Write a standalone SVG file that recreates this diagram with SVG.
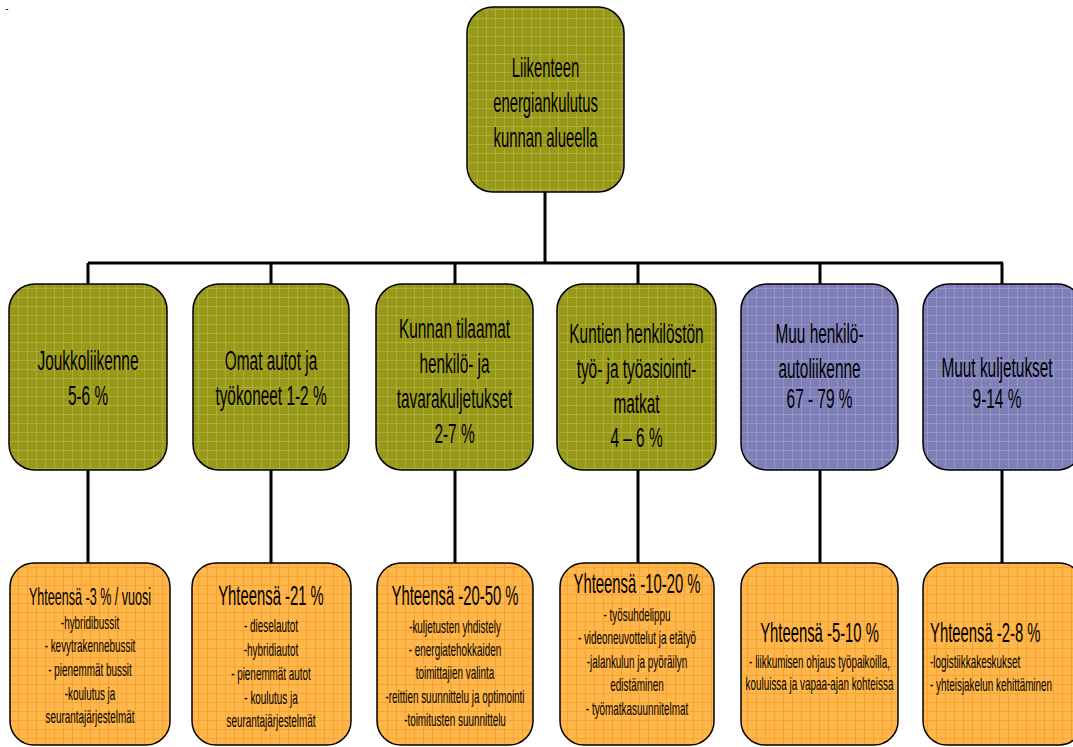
<svg xmlns="http://www.w3.org/2000/svg" width="1073" height="747" viewBox="0 0 1073 747">
<style>
.box{stroke:#000;stroke-width:1.5}
.ol{fill:url(#pOl)}
.bl{fill:url(#pBl)}
.or{fill:url(#pOr)}
.conn{stroke:#000;stroke-width:3;fill:none}
text{font-family:"Liberation Sans",Arial,sans-serif;fill:#000;text-anchor:middle}
.t1{font-size:27px}
.t2{font-size:28px}
.h{font-size:26px}
.s{font-size:18px}
.l text{text-anchor:start}
</style>
<defs>
<pattern id="pOl" width="9" height="9" patternUnits="userSpaceOnUse">
<rect width="9" height="9" fill="#999919"/>
<path d="M0 0.5H9M0.5 0V9" stroke="#adad3a" stroke-width="1"/>
</pattern>
<pattern id="pBl" width="9" height="9" patternUnits="userSpaceOnUse">
<rect width="9" height="9" fill="#7f7fb8"/>
<path d="M0 0.5H9M0.5 0V9" stroke="#9595c8" stroke-width="1"/>
</pattern>
<pattern id="pOr" width="9" height="9" patternUnits="userSpaceOnUse">
<rect width="9" height="9" fill="#ffb64a"/>
<path d="M0 0.5H9M0.5 0V9" stroke="#f5a432" stroke-width="1"/>
</pattern>
</defs>
<text x="7" y="12" style="font-size:10px">-</text>
<g id="connectors">
<path class="conn" d="M545 192V263M88 263H1003M88 263V284M271 263V284M455 263V284M638 263V284M820 263V284M1002 263V284"/>
<path class="conn" d="M88 470V563M271 470V563M455 470V563M638 470V563M820 470V563M1002 470V563"/>
</g>
<g id="root">
<rect class="box ol" x="467" y="7" width="157" height="185" rx="26"/>
<g transform="translate(545.5,0) scale(0.55,1)" class="t1"><text y="77">Liikenteen</text><text y="112">energiankulutus</text><text y="147">kunnan alueella</text></g>
</g>
<g id="m1">
<rect class="box ol" x="9" y="284" width="158" height="186" rx="26"/>
<g transform="translate(88,0) scale(0.55,1)" class="t2"><text y="370">Joukkoliikenne</text><text y="405">5-6 %</text></g>
</g>
<g id="m2">
<rect class="box ol" x="193" y="284" width="156" height="186" rx="26"/>
<g transform="translate(271,0) scale(0.55,1)" class="t2"><text y="370">Omat autot ja</text><text y="405">työkoneet 1-2 %</text></g>
</g>
<g id="m3">
<rect class="box ol" x="376" y="284" width="157" height="186" rx="26"/>
<g transform="translate(454.5,0) scale(0.55,1)" class="t2"><text y="338">Kunnan tilaamat</text><text y="373">henkilö- ja</text><text y="408">tavarakuljetukset</text><text y="443">2-7 %</text></g>
</g>
<g id="m4">
<rect class="box ol" x="557" y="284" width="159" height="186" rx="26"/>
<g transform="translate(636.5,0) scale(0.55,1)" class="t2"><text y="343">Kuntien henkilöstön</text><text y="378">työ- ja työasiointi-</text><text y="413">matkat</text><text y="447">4 – 6 %</text></g>
</g>
<g id="m5">
<rect class="box bl" x="741" y="284" width="157" height="186" rx="26"/>
<g transform="translate(819.5,0) scale(0.55,1)" class="t2"><text y="343">Muu henkilö-</text><text y="378">autoliikenne</text><text y="408">67 - 79 %</text></g>
</g>
<g id="m6">
<rect class="box bl" x="923" y="284" width="160" height="186" rx="26"/>
<g transform="translate(997,0) scale(0.55,1)" class="t2"><text y="377">Muut kuljetukset</text><text y="408">9-14 %</text></g>
</g>
<g id="b1">
<rect class="box or" x="10" y="563" width="160" height="182" rx="24"/>
<g transform="translate(90,0) scale(0.55,1)"><text class="h" y="605" style="font-size:24px" textLength="222" lengthAdjust="spacingAndGlyphs">Yhteensä -3 % / vuosi</text><text class="s" y="629">-hybridibussit</text><text class="s" y="652">- kevytrakennebussit</text><text class="s" y="676">- pienemmät bussit</text><text class="s" y="700">-koulutus ja</text><text class="s" y="723">seurantajärjestelmät</text></g>
</g>
<g id="b2">
<rect class="box or" x="192" y="563" width="159" height="182" rx="24"/>
<g transform="translate(271,0) scale(0.55,1)"><text class="h" y="605" style="font-size:27px">Yhteensä -21 %</text><text class="s" y="632">- dieselautot</text><text class="s" y="656">-hybridiautot</text><text class="s" y="680">- pienemmät autot</text><text class="s" y="704">- koulutus ja</text><text class="s" y="727">seurantajärjestelmät</text></g>
</g>
<g id="b3">
<rect class="box or" x="377" y="563" width="156" height="182" rx="24"/>
<g transform="translate(455,0) scale(0.55,1)"><text class="h" y="605" style="font-size:27px">Yhteensä -20-50 %</text><text class="s" y="633">-kuljetusten yhdistely</text><text class="s" y="656">- energiatehokkaiden</text><text class="s" y="679">toimittajien valinta</text><text class="s" y="703">-reittien suunnittelu ja optimointi</text><text class="s" y="726">-toimitusten suunnittelu</text></g>
</g>
<g id="b4">
<rect class="box or" x="560" y="563" width="154" height="182" rx="24"/>
<g transform="translate(637,0) scale(0.55,1)"><text class="h" y="593" style="font-size:27px">Yhteensä -10-20 %</text><text class="s" y="621">- työsuhdelippu</text><text class="s" y="644">- videoneuvottelut ja etätyö</text><text class="s" y="668">-jalankulun ja pyöräilyn</text><text class="s" y="691">edistäminen</text><text class="s" y="715">- työmatkasuunnitelmat</text></g>
</g>
<g id="b5">
<rect class="box or" x="741" y="563" width="157" height="182" rx="24"/>
<g transform="translate(819.5,0) scale(0.55,1)"><text class="h" y="642" style="font-size:27px">Yhteensä -5-10 %</text><text class="s" y="668">- liikkumisen ohjaus työpaikoilla,</text><text class="s" y="690">kouluissa ja vapaa-ajan kohteissa</text></g>
</g>
<g id="b6">
<rect class="box or" x="923" y="563" width="160" height="182" rx="24"/>
<g transform="translate(930,0) scale(0.55,1)" class="l"><text class="h" y="642" style="font-size:27px">Yhteensä -2-8 %</text><text class="s" y="668">-logistiikkakeskukset</text><text class="s" y="691">- yhteisjakelun kehittäminen</text></g>
</g>
</svg>
